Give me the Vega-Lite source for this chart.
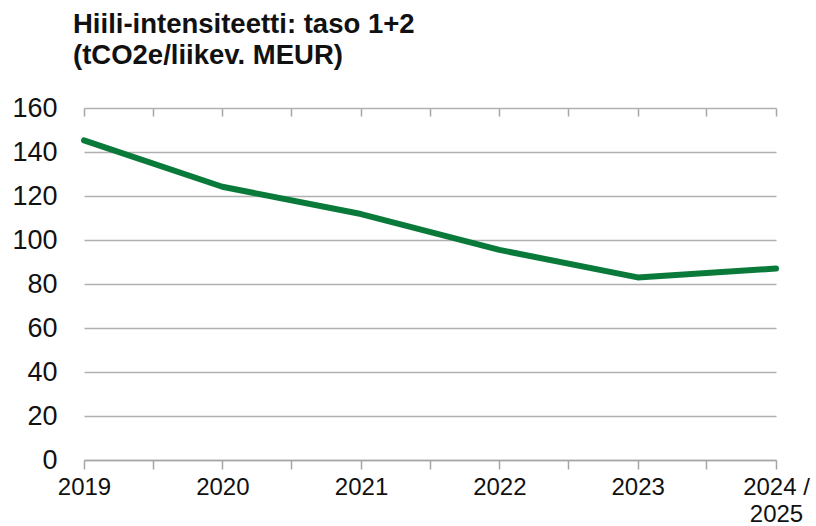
{
  "$schema": "https://vega.github.io/schema/vega-lite/v6.json",
  "width": 692,
  "height": 352,
  "autosize": {"type": "none"},
  "padding": {"left": 84, "top": 108, "right": 40, "bottom": 66},
  "background": "white",
  "title": {
    "text": ["Hiili-intensiteetti: taso 1+2", "(tCO2e/liikev. MEUR)"],
    "anchor": "start",
    "frame": "group",
    "dx": -11,
    "offset": 25,
    "font": "Liberation Sans",
    "fontSize": 27.5,
    "fontWeight": "bold",
    "color": "#111111",
    "lineHeight": 31
  },
  "config": {
    "view": {"stroke": null},
    "font": "Liberation Sans"
  },
  "data": {
    "values": [
      {"vuosi": "2019", "arvo": 145.3},
      {"vuosi": "2020", "arvo": 124.2},
      {"vuosi": "2021", "arvo": 111.8},
      {"vuosi": "2022", "arvo": 95.5},
      {"vuosi": "2023", "arvo": 83.0},
      {"vuosi": "2024", "arvo": 87.0}
    ],
    "format": {"parse": {"vuosi": "utc:'%Y'"}}
  },
  "mark": {"type": "line", "color": "#0a7a3a", "strokeWidth": 6, "strokeCap": "round", "strokeJoin": "round"},
  "encoding": {
    "x": {
      "field": "vuosi",
      "type": "temporal",
      "scale": {"type": "utc", "nice": false},
      "axis": {
        "title": null,
        "tickCount": {"interval": "month", "step": 6},
        "labelExpr": "utcmonth(datum.value) == 0 ? (utcyear(datum.value) == 2024 ? ['2024 /', '2025'] : utcFormat(datum.value, '%Y')) : ''",
        "labelOverlap": false,
        "labelBound": false,
        "labelFlush": false,
        "labelFont": "Liberation Sans",
        "labelFontSize": 24,
        "labelColor": "#111111",
        "labelPadding": 6,
        "labelLineHeight": 27,
        "domainColor": "#a6a6a6",
        "domainWidth": 1.5,
        "tickColor": "#a6a6a6",
        "tickWidth": 1.5,
        "tickSize": 9,
        "grid": true,
        "gridColor": "#a6a6a6",
        "gridWidth": 1.5,
        "gridDash": [8, 2000]
      }
    },
    "y": {
      "field": "arvo",
      "type": "quantitative",
      "scale": {"domain": [0, 160], "nice": false},
      "axis": {
        "title": null,
        "values": [0, 20, 40, 60, 80, 100, 120, 140, 160],
        "domain": false,
        "ticks": false,
        "labelFont": "Liberation Sans",
        "labelFontSize": 27,
        "labelColor": "#111111",
        "labelPadding": 27,
        "grid": true,
        "gridColor": "#b0b0b0",
        "gridWidth": 1.5
      }
    }
  }
}
